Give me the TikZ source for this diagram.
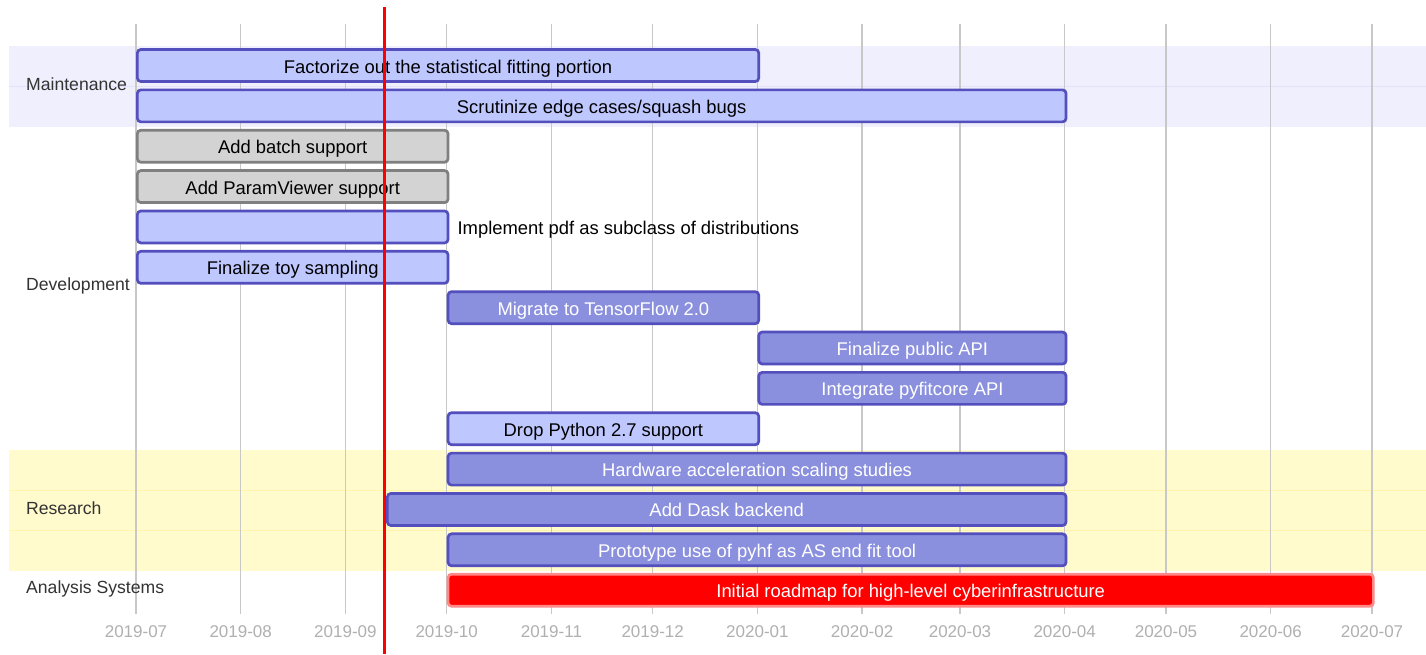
\documentclass[tikz,border=0pt]{standalone}
\usepackage{fontspec}
\setmainfont{Liberation Sans}
\begin{document}
\definecolor{actfill}{HTML}{BFC7FF}
\definecolor{taskfill}{HTML}{8A90DD}
\definecolor{taskline}{HTML}{534FBC}
\definecolor{donefill}{HTML}{D3D3D3}
\definecolor{doneline}{HTML}{808080}
\definecolor{critline}{HTML}{FF8888}
\definecolor{bandA}{RGB}{239,239,253}
\definecolor{bandAline}{RGB}{226,226,250}
\definecolor{bandB}{RGB}{255,251,204}
\definecolor{bandBline}{RGB}{255,244,170}
\definecolor{gridc}{RGB}{200,200,200}
\definecolor{tickc}{RGB}{176,176,176}
\definecolor{labelc}{RGB}{51,51,51}
\begin{tikzpicture}[x=1pt,y=-1pt,
  taskbar/.style={draw=taskline,line width=2.7pt,rounded corners=3.5pt,inner sep=0pt,
    minimum height=32pt,text height=17pt,text depth=2pt,font=\fontsize{18.4}{21}\selectfont},
  normal/.style={taskbar,fill=taskfill,text=white},
  active/.style={taskbar,fill=actfill,text=black},
  done/.style={taskbar,fill=donefill,draw=doneline,text=black},
  crit/.style={taskbar,fill=red,draw=critline,text=white},
  seclabel/.style={anchor=west,text=labelc,inner sep=0pt,font=\fontsize{17.6}{20}\selectfont},
  ticklabel/.style={text=tickc,inner sep=0pt,font=\fontsize{17}{20}\selectfont},
  gridline/.style={draw=gridc,line width=1.3pt}]
\useasboundingbox (0,0) rectangle (1426,654);
\fill[white] (0,0) rectangle (1426,654);

% section backgrounds
\fill[bandA] (9,46) rectangle (1426,126.7);
\draw[bandAline,line width=0.8pt] (9,86.4) -- (1426,86.4);
\fill[bandB] (9,449.6) rectangle (1426,570.7);
\draw[bandBline,line width=0.8pt] (9,490) -- (1426,490);
\draw[bandBline,line width=0.8pt] (9,530.3) -- (1426,530.3);

% month grid and labels
\foreach \x/\lab [count=\i] in {136/2019-07,240.7/2019-08,345.4/2019-09,446.7/2019-10,
  551.4/2019-11,652.7/2019-12,757.4/2020-01,862.1/2020-02,960/2020-03,
  1064.7/2020-04,1166/2020-05,1270.7/2020-06,1372/2020-07}{
  \draw[gridline] (\x,24) -- (\x,614);
  \node[ticklabel] (tick\i) at (\x,632) {\lab};
}

% section labels
\node[seclabel] (secmaint) at (26,84) {Maintenance};
\node[seclabel] (secdev) at (26,286) {Development};
\node[seclabel] (secres) at (26,508) {Research};
\node[seclabel] (secas) at (26,589) {Analysis Systems};

% task bars: name, row, start x, end x, style, text
\newcommand\ganttbar[6]{%
  \pgfmathsetmacro\barw{#4-#3}%
  \pgfmathsetmacro\bary{46+40.36*#2+19.5}%
  \node[#5,minimum width=\barw pt,anchor=west] (#1) at (#3,\bary) {#6};}

\ganttbar{factor}{0}{136}{757.4}{active}{Factorize out the statistical fitting portion}
\ganttbar{scrut}{1}{136}{1064.7}{active}{Scrutinize edge cases/squash bugs}
\ganttbar{batch}{2}{136}{446.7}{done}{Add batch support}
\ganttbar{paramview}{3}{136}{446.7}{done}{Add ParamViewer support}
\ganttbar{pdf}{4}{136}{446.7}{active}{}
\node[anchor=west,inner sep=0pt,text height=17pt,text depth=2pt,font=\fontsize{18.4}{21}\selectfont] (pdftext) at ([xshift=8pt]pdf.east) {Implement pdf as subclass of distributions};
\ganttbar{toy}{5}{136}{446.7}{active}{Finalize toy sampling}
\ganttbar{tf}{6}{446.7}{757.4}{normal}{Migrate to TensorFlow 2.0}
\ganttbar{api}{7}{757.4}{1064.7}{normal}{Finalize public API}
\ganttbar{pyfitcore}{8}{757.4}{1064.7}{normal}{Integrate pyfitcore API}
\ganttbar{py27}{9}{446.7}{757.4}{active}{Drop Python 2.7 support}
\ganttbar{hwaccel}{10}{446.7}{1064.7}{normal}{Hardware acceleration scaling studies}
\ganttbar{dask}{11}{386}{1064.7}{normal}{Add Dask backend}
\ganttbar{proto}{12}{446.7}{1064.7}{normal}{Prototype use of pyhf as AS end fit tool}
\ganttbar{roadmap}{13}{446.7}{1372}{crit}{Initial roadmap for high-level cyberinfrastructure}

% today marker
\coordinate (todaytop) at (384,7);
\coordinate (todaybot) at (384,654);
\draw[red,line width=3pt] (todaytop) -- (todaybot);
\end{tikzpicture}
\end{document}
